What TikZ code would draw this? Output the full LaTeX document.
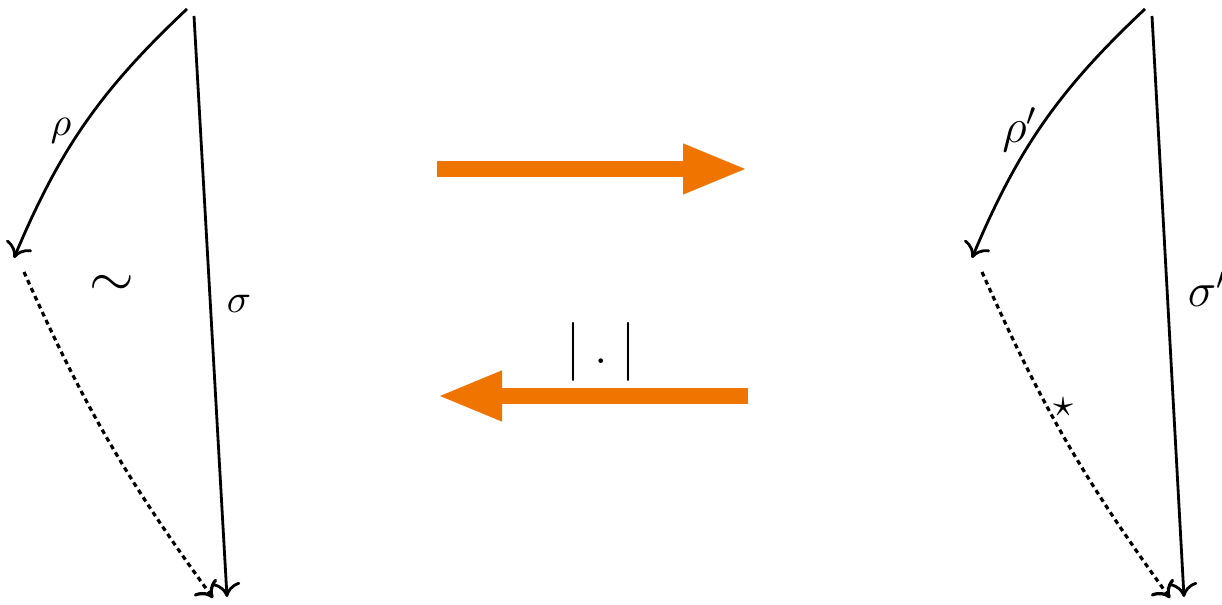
\documentclass[tikz,border=0pt]{standalone}
\usepackage{amsmath}
\usetikzlibrary{arrows.meta}
\definecolor{maporange}{RGB}{240,116,0}

\begin{document}
\begin{tikzpicture}[x=0.25pt,y=-0.25pt,
  leg/.style={line width=0.7pt,-{To[length=3.6pt,width=7pt]}},
  lift/.style={leg,line width=0.8pt,dash pattern=on 1.2pt off 1pt},
  bigarrow/.style={maporange,line width=3.9pt,-{Triangle[length=16.25pt,width=11.5pt]}}]
  \useasboundingbox (0,0) rectangle (1222,605);

  % Left triangle
  \coordinate (rhoA) at (187,9);
  \coordinate (rhoB) at (14,258);
  \coordinate (sigA) at (194,16);
  \coordinate (sigB) at (227,597);
  \coordinate (tilA) at (24,272);
  \coordinate (tilB) at (213,598);

  \draw[leg] (rhoA) to[bend right=12] (rhoB);
  \draw[leg] (sigA) -- (sigB);
  \draw[lift] (tilA) to[bend right=6] (tilB);

  \node (rholab) at (61,131) {$\rho$};
  \node[font=\Large] (simlab) at (112,286) {$\sim$};
  \node (siglab) at (239,304) {$\sigma$};

  % Right triangle
  \coordinate (rhoPA) at (1145,9);
  \coordinate (rhoPB) at (972,258);
  \coordinate (sigPA) at (1152,16);
  \coordinate (sigPB) at (1184,597);
  \coordinate (starA) at (982,272);
  \coordinate (starB) at (1170,598);

  \draw[leg] (rhoPA) to[bend right=12] (rhoPB);
  \draw[leg] (sigPA) -- (sigPB);
  \draw[lift] (starA) to[bend right=6] (starB);

  \node[font=\large] (rhoPlab) at (1020,130) {$\rho'$};
  \node[font=\large,anchor=base west,inner sep=0pt] (sigPlab) at (1187,307) {$\sigma'$};
  \node (starlab) at (1063,407) {$\star$};

  % Maps between them
  \coordinate (fwdA) at (437,169);
  \coordinate (fwdB) at (748,169);
  \coordinate (bwdA) at (748,396);
  \coordinate (bwdB) at (437,396);

  \draw[bigarrow] (fwdA) -- (fwdB);
  \draw[bigarrow] (bwdA) -- (bwdB);
  \node[font=\large] (abslab) at (601,352) {$\big|\;.\;\big|$};
\end{tikzpicture}
\end{document}
